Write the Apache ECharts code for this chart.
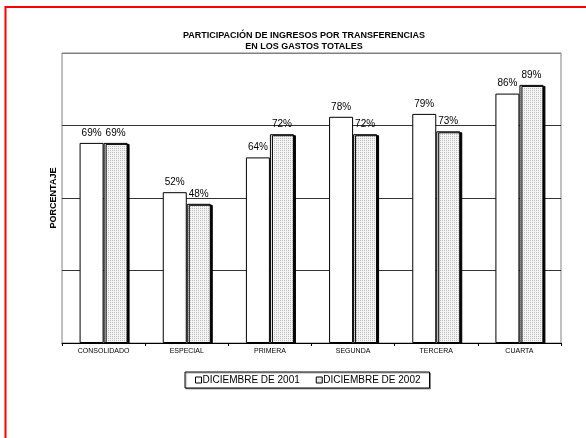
<!DOCTYPE html>
<html>
<head>
<meta charset="utf-8">
<script src="https://cdn.jsdelivr.net/npm/echarts@6/dist/echarts.min.js"></script>
<style>html,body{margin:0;padding:0;background:#fff;}#c{width:586px;height:438px;}</style>
</head>
<body>
<div id="c"></div>
<script>
var categories = ['CONSOLIDADO', 'ESPECIAL', 'PRIMERA', 'SEGUNDA', 'TERCERA', 'CUARTA'];
var dic2001 = [69, 52, 64, 78, 79, 86];
var dic2002 = [69, 48, 72, 72, 73, 89];
var seriesNames = ['DICIEMBRE DE 2001', 'DICIEMBRE DE 2002'];
var titleLines = ['PARTICIPACIÓN DE INGRESOS POR TRANSFERENCIAS', 'EN LOS GASTOS TOTALES'];

var FONT = 'Liberation Sans, Arial, sans-serif';
var pc = document.createElement('canvas');
pc.width = 2; pc.height = 2;
var pctx = pc.getContext('2d');
pctx.fillStyle = '#f4f4f4'; pctx.fillRect(0, 0, 2, 2);
pctx.fillStyle = '#bdbdbd'; pctx.fillRect(0, 0, 1, 1);
var pattern = { image: pc, repeat: 'repeat' };

var chart = echarts.init(document.getElementById('c'), null, { renderer: 'canvas' });
chart.setOption({
  animation: false,
  backgroundColor: '#fff',
  title: {
    text: titleLines.join('\n'),
    left: 299, top: 25, textAlign: 'center',
    textStyle: { fontFamily: FONT, fontSize: 9, fontWeight: 'bold', color: '#000', lineHeight: 11 }
  },
  graphic: [{
    type: 'rect', silent: true, z: 100,
    shape: { x: 5.5, y: 7, width: 620, height: 460 },
    style: { fill: 'none', stroke: '#ff0000', lineWidth: 2 }
  }],
  legend: {
    left: 185, top: 372,
    padding: [3, 9, 3, 10],
    itemWidth: 6, itemHeight: 6, itemGap: 16,
    icon: 'rect',
    backgroundColor: '#fff',
    borderColor: '#000', borderWidth: 1,
    shadowColor: 'rgba(0,0,0,0.35)', shadowOffsetX: 1, shadowOffsetY: 1,
    itemStyle: { borderWidth: 1, shadowColor: 'transparent' },
    textStyle: { fontFamily: FONT, fontSize: 10, color: '#000', padding: [0, 0, 0, -4] },
    data: seriesNames
  },
  grid: {
    left: 62, right: 25, top: 53, bottom: 95,
    show: true, borderColor: '#808080', borderWidth: 1, backgroundColor: 'transparent'
  },
  xAxis: {
    type: 'category',
    data: categories,
    axisLine: { lineStyle: { color: '#000', width: 1 } },
    axisTick: { show: true, length: 3, lineStyle: { color: '#000' } },
    axisLabel: { fontFamily: FONT, fontSize: 7, color: '#000', margin: 5 }
  },
  yAxis: {
    type: 'value', min: 0, max: 100, interval: 25,
    name: 'PORCENTAJE', nameLocation: 'middle', nameRotate: 90, nameGap: 4,
    nameTextStyle: { fontFamily: FONT, fontSize: 9, fontWeight: 'bold', color: '#000' },
    axisLine: { show: false },
    axisTick: { show: false },
    axisLabel: { show: false },
    splitLine: { show: true, lineStyle: { color: ['#000', '#333', '#333', '#333', '#808080'], width: 1 } }
  },
  series: [
    {
      name: seriesNames[0], type: 'bar', data: dic2001,
      barWidth: 24, barGap: '0%',
      itemStyle: { color: '#fff', borderColor: '#000', borderWidth: 1 },
      label: { show: true, position: 'top', distance: 5, formatter: '{c}%', fontFamily: FONT, fontSize: 10, color: '#000' }
    },
    {
      name: seriesNames[1], type: 'bar', data: dic2002,
      barWidth: 24, barGap: '0%',
      itemStyle: { color: pattern, borderColor: '#000', borderWidth: 1,
                   shadowColor: '#000', shadowOffsetX: 2, shadowOffsetY: 1, shadowBlur: 0 },
      label: { show: true, position: 'top', distance: 5, formatter: '{c}%', fontFamily: FONT, fontSize: 10, color: '#000' }
    }
  ]
});
</script>
</body>
</html>
